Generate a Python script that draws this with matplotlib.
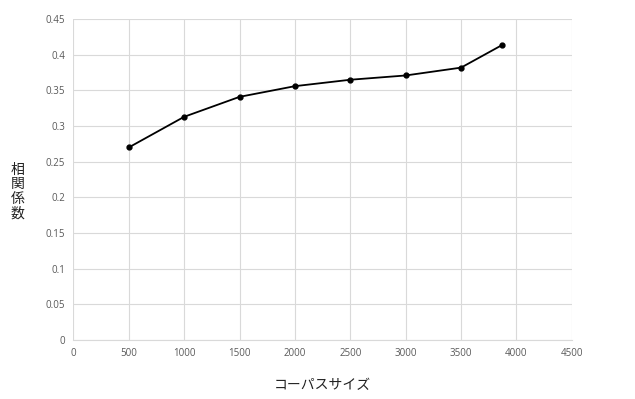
import matplotlib
matplotlib.use('Agg')
import matplotlib.pyplot as plt

plt.rcParams['font.family'] = ['Noto Sans CJK JP', 'DejaVu Sans']

# Data
corpus_size = [500, 1000, 1500, 2000, 2500, 3000, 3500, 3874]
correlation = [0.270, 0.313, 0.341, 0.356, 0.365, 0.371, 0.382, 0.414]

x_ticks = [0, 500, 1000, 1500, 2000, 2500, 3000, 3500, 4000, 4500]
y_ticks = [0, 0.05, 0.1, 0.15, 0.2, 0.25, 0.3, 0.35, 0.4, 0.45]
y_tick_labels = ['0', '0.05', '0.1', '0.15', '0.2', '0.25', '0.3', '0.35', '0.4', '0.45']

fig = plt.figure(figsize=(6.35, 3.99), dpi=100)
ax = fig.add_axes([0.1155, 0.148, 0.785, 0.804])

ax.plot(corpus_size, correlation, color='black', linewidth=1.3,
        marker='o', markersize=3.5, zorder=3)

ax.set_xlim(0, 4500)
ax.set_ylim(0, 0.45)
ax.set_xticks(x_ticks)
ax.set_yticks(y_ticks)
ax.set_yticklabels(y_tick_labels)

ax.grid(True, color='#d9d9d9', linewidth=0.8)
ax.set_axisbelow(True)
for side in ['top', 'right', 'left']:
    ax.spines[side].set_visible(False)
ax.spines['bottom'].set_color('#d9d9d9')

ax.tick_params(axis='both', length=0, labelsize=7, labelcolor='#595959', pad=6)
for lbl in ax.get_xticklabels() + ax.get_yticklabels():
    lbl.set_family(['Open Sans', 'DejaVu Sans'])

fig.text(0.507, 0.035, 'コーパスサイズ', ha='center', va='center',
         fontsize=10, color='#222222')
fig.text(0.028, 0.52, '相\n関\n係\n数', ha='center', va='center',
         fontsize=10, color='#222222', linespacing=1.05)

fig.savefig('out.png', dpi=100)
